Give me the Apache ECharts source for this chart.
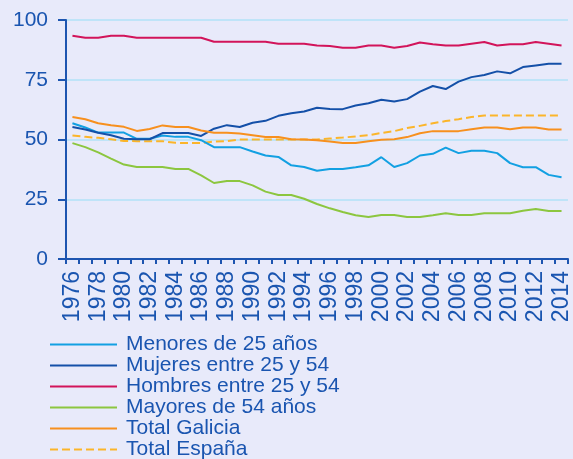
<!DOCTYPE html>
<html>
<head>
<meta charset="utf-8">
<script src="https://cdn.jsdelivr.net/npm/echarts@6/dist/echarts.min.js"></script>
<style>
html,body{margin:0;padding:0;background:#e8eafa;}
#c{width:573px;height:459px;}
</style>
</head>
<body>
<div id="c"></div>
<script>
var years = [];
for (var y = 1976; y <= 2014; y++) years.push(String(y));

var menores25 = [56.8,55,52.9,52.9,52.9,50.3,50.3,51.7,51.1,51.1,49.7,46.8,46.8,46.8,45,43.3,42.7,39.2,38.5,36.9,37.7,37.7,38.4,39.2,42.6,38.5,40.1,43.3,44,46.6,44.3,45.3,45.3,44.3,40.1,38.4,38.4,35.2,34.2];
var mujeres2554 = [55.2,54.2,52.8,51.8,50.3,50.1,50.1,52.7,52.7,52.7,51.5,54.5,56,55.2,57,57.8,59.9,61,61.7,63.3,62.8,62.7,64.2,65.2,66.6,65.9,66.9,70,72.4,71.1,74.2,76.1,77,78.5,77.7,80.3,81,81.7,81.7];
var hombres2554 = [93.4,92.6,92.6,93.4,93.4,92.6,92.6,92.6,92.6,92.6,92.6,90.9,90.9,90.9,90.9,90.9,90.1,90.1,90.1,89.3,89.1,88.4,88.4,89.3,89.3,88.4,89.1,90.6,89.9,89.3,89.3,90.1,90.8,89.3,89.9,89.9,90.8,90.1,89.3];
var mayores54 = [48.5,46.8,44.6,42,39.5,38.5,38.5,38.5,37.7,37.7,35,31.8,32.6,32.6,30.8,28.2,26.8,26.8,25.2,23,21.2,19.7,18.3,17.6,18.4,18.4,17.6,17.6,18.3,19.1,18.4,18.4,19.1,19.1,19.1,20.2,20.9,20.1,20.1];
var totalGalicia = [59.4,58.5,56.8,56,55.3,53.6,54.4,55.9,55.2,55.2,53.8,52.8,52.8,52.5,51.8,51,51,50.1,50,49.7,49.2,48.5,48.5,49.3,49.9,50.1,51,52.6,53.5,53.5,53.5,54.3,55,55,54.3,55,55,54.2,54.2];
var totalEspana = [51.7,51.1,50.7,50.1,49.4,49.3,49.3,49.3,48.6,48.5,48.5,49.2,49.3,50,50,50,50,50,50,50,50.4,50.8,51.3,51.8,52.7,53.5,54.8,55.7,56.8,57.7,58.5,59.4,60,60,60,60,60,60,60];

var yTicks = [0,25,50,75,100];

var seriesDefs = [
  {name:'Menores de 25 años', data:menores25, color:'#12a0e2', type:'solid'},
  {name:'Mujeres entre 25 y 54', data:mujeres2554, color:'#1450a8', type:'solid'},
  {name:'Hombres entre 25 y 54', data:hombres2554, color:'#d2145a', type:'solid'},
  {name:'Mayores de 54 años', data:mayores54, color:'#8cc63f', type:'solid'},
  {name:'Total Galicia', data:totalGalicia, color:'#f7901e', type:'solid'},
  {name:'Total España', data:totalEspana, color:'#fbb52a', type:'dashed'}
];

var textColor = '#1a55b0';
var font = 'Liberation Sans, Arial, sans-serif';

var chart = echarts.init(document.getElementById('c'), null, {renderer:'canvas'});
chart.setOption({
  backgroundColor:'#e8eafa',
  animation:false,
  grid:{left:66, right:2, top:20, bottom:200, containLabel:false},
  xAxis:{
    type:'category',
    data:years,
    boundaryGap:true,
    axisLine:{lineStyle:{color:'#1d55b0', width:2}},
    axisTick:{show:true, interval:0, length:5, lineStyle:{color:'#1d55b0', width:2}},
    axisLabel:{interval:1, rotate:90, color:textColor, fontSize:23, fontFamily:font, margin:12}
  },
  yAxis:{
    type:'value',
    min:yTicks[0], max:yTicks[yTicks.length-1], interval:25,
    axisLine:{show:true, lineStyle:{color:'#1d55b0', width:2}},
    axisTick:{show:true, length:8, lineStyle:{color:'#1d55b0', width:2}},
    axisLabel:{color:textColor, fontSize:21, fontFamily:font, margin:18},
    splitLine:{lineStyle:{color:'#bfe4f8', width:2}}
  },
  legend:{
    orient:'vertical',
    left:49, top:334, height:200, padding:0,
    itemWidth:67, itemHeight:10, itemGap:0,
    itemStyle:{opacity:0},
    textStyle:{color:textColor, fontSize:21, fontFamily:font, lineHeight:20.8, padding:[0,0,0,4]},
    data:seriesDefs.map(function(s){return s.name;})
  },
  series:seriesDefs.map(function(s){
    return {
      name:s.name, type:'line', data:s.data,
      symbol:'none', showSymbol:false,
      lineStyle:{color:s.color, width:2, type:s.type},
      itemStyle:{color:s.color},
      z: s.type==='dashed' ? 1 : 2
    };
  })
});
</script>
</body>
</html>
